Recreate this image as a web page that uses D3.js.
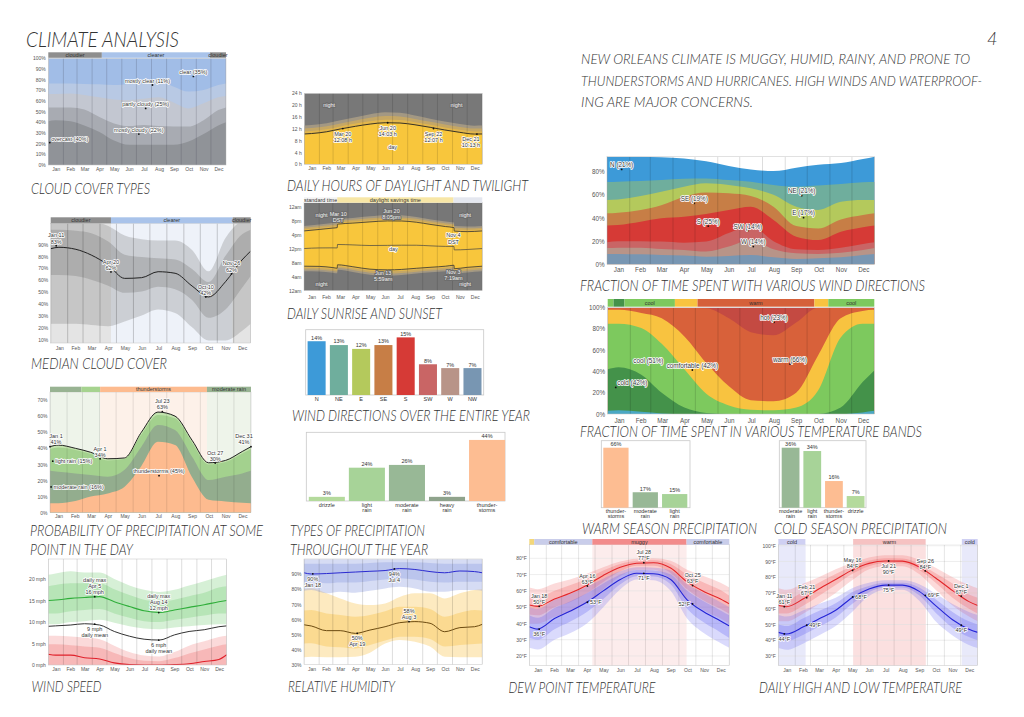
<!DOCTYPE html>
<html><head><meta charset="utf-8">
<script src="https://cdn.jsdelivr.net/npm/d3@7"></script>
<style>
html,body{margin:0;padding:0;background:#fff;}
svg{display:block;}
.t{font-family:'Lato','Open Sans',sans-serif;font-style:italic;font-weight:300;fill:#333;}
.ax text{font-family:'Liberation Sans',Arial,sans-serif;fill:#555;}
.lbl{font-family:'Liberation Sans',Arial,sans-serif;fill:#333;paint-order:stroke;stroke:#fff;stroke-width:1.6px;stroke-linejoin:round;}
.inv{fill:#f2f2f2;stroke:#6d6d6d;stroke-width:2px;}
.bt{font-family:'Liberation Sans',Arial,sans-serif;fill:#333;font-size:5.5px;}
</style></head><body><svg id="c" width="1024" height="717"></svg>
<script>
// ---------- common ----------
const MONTHS=["Jan","Feb","Mar","Apr","May","Jun","Jul","Aug","Sep","Oct","Nov","Dec"];
const MONTH_START=[0,31,59,90,120,151,181,212,243,273,304,334,365];
const DAYS=[0,15,46,74,105,135,166,196,227,258,288,319,349,365];

// ---------- cloud cover types (cumulative tops, %) ----------
const cloudOvercastTop=[41,42,41,37,31,23,19,19,19,19,22,29,37,40];
const cloudMostlyCloudyTop=[54,54,54,52,45,39,36.5,37.5,36.5,36,36,42,51.5,54];
const cloudPartlyCloudyTop=[66.5,66.5,67,65.6,63.4,61.5,61,62,63.4,58.4,53,57.8,63.4,64.7];
const cloudMostlyClearTop=[76.5,76.5,76.5,76,75.6,75,76.5,80,79.7,73.4,68.8,70.3,75,76.5];

// ---------- daylight (hours) ----------
const dayLength=[10.25,10.4,11.0,11.95,12.85,13.6,14.05,13.95,13.35,12.5,11.6,10.8,10.22,10.25];
const civilTop=[11.1,11.25,11.85,12.8,13.75,14.55,15.05,14.95,14.25,13.35,12.45,11.65,11.07,11.1];
const nauticalTop=[12.1,12.25,12.85,13.8,14.8,15.7,16.3,16.15,15.35,14.35,13.45,12.65,12.07,12.1];
const astroTop=[13.1,13.25,13.85,14.85,15.9,16.95,17.6,17.4,16.5,15.4,14.45,13.65,13.07,13.1];

// ---------- median cloud cover (%) ----------
const cloudMedian=[81,82.2,80.5,75.7,67.3,56.1,56.7,61.7,60.4,49.7,40.5,53.3,71.5,79];
const cloudP10=[18,18,18,17,16,20,25,30,27,15,4,4,12,18];
const cloudP25=[59,59,58,55,50,44,45,49,47,38,23,30,48,58];
const cloudP75=[97,97,96,94,87,76,74,73,72,64,53,75,93,97];
const cloudP90=[105,105,105,104,100,92,89,88,88,80,62,90,104,105];

// ---------- sunrise / sunset (hour of day) ----------
const SUN_DAYS=[0,31,59,68,68.6,100,135,171,200,230,260,290,307,307.6,334,365];
const sunrise=[7.05,7.0,6.65,6.47,7.45,6.9,6.2,6.0,6.12,6.45,6.75,7.05,7.33,6.33,6.72,7.05];
const sunset=[17.2,17.62,18.02,18.15,19.15,19.45,19.8,20.08,20.05,19.7,19.05,18.45,18.15,17.15,17.0,17.2];
const solarNoon=[12.13,12.31,12.33,12.31,13.3,13.18,13.0,13.04,13.09,13.08,12.9,12.75,12.74,11.74,11.86,12.13];
const civilDawn=[6.6,6.55,6.2,6.02,7.0,6.45,5.72,5.5,5.64,6.0,6.3,6.6,6.88,5.88,6.26,6.6];
const nauticalDawn=[6.1,6.05,5.7,5.52,6.5,5.93,5.18,4.93,5.1,5.48,5.8,6.1,6.38,5.38,5.76,6.1];
const astroDawn=[5.6,5.55,5.2,5.02,6.0,5.4,4.6,4.3,4.5,4.95,5.3,5.6,5.88,4.88,5.26,5.6];
const civilDusk=[17.65,18.07,18.47,18.6,19.6,19.9,20.28,20.58,20.53,20.15,19.5,18.9,18.6,17.6,17.46,17.65];
const nauticalDusk=[18.15,18.57,18.97,19.1,20.1,20.42,20.82,21.15,21.08,20.68,20.0,19.4,19.1,18.1,17.96,18.15];
const astroDusk=[18.65,19.07,19.47,19.6,20.6,20.95,21.4,21.78,21.68,21.2,20.52,19.9,19.6,18.6,18.46,18.65];

// ---------- wind direction over the year (bars) ----------
const windDirs=["N","NE","E","SE","S","SW","W","NW"];
const windDirPct=[14,13,12,13,15,8,7,7];
const windDirColors=["#3d9ad8","#6fae9d","#b4c95c","#c77e46","#d63a36","#c96565","#b89488","#7896b2"];

// ---------- types of precipitation (bars) ----------
const precipTypes=["drizzle","light\nrain","moderate\nrain","heavy\nrain","thunder-\nstorms"];
const precipTypePct=[3,24,26,3,44];
const precipTypeColors=["#b4da9c","#a7d398","#98b896","#8fa38c","#fdbd92"];

// ---------- probability of precipitation (cumulative, %) ----------
const ppThunder=[5.8,5.8,7.2,10,12,16,29,44,42,22,8,7,6.2,5.8];
const ppModerate=[26,25.5,24.4,23.4,22.4,26.5,41,54.5,51.3,34.8,20.3,22.4,24.4,26];
const ppLight=[39.5,40.5,39,36.5,32.5,33.3,48.5,60.7,58.6,43.5,30,31.5,36.8,39.5];
const ppTotal=[41,42,40,37.5,33.5,34,50,62.5,60,45,31,32.5,38,41];

// ---------- wind speed (mph) ----------
const wsMax=[15,15.1,15.5,15.7,15.9,14.7,13.6,12.6,12.2,12.8,13.4,14,14.7,15];
const wsMaxP10=[9.5,9.5,10,10.2,10.5,9.8,9,8.5,8.3,8.7,9,9.3,9.5,9.5];
const wsMaxP25=[12,12,12.5,12.8,13,12,11,10.2,10,10.5,11,11.5,12,12];
const wsMaxP75=[18.3,18.6,19,19,19,17.6,16.3,15.2,14.8,15.2,16,16.8,18,18.3];
const wsMaxP90=[21,21.3,21.8,21.5,21.5,20,18.5,17.5,17,17.5,18.5,19.5,20.5,21];
const wsMean=[9,9.1,9.3,9.6,9.3,7.8,6.7,6,5.8,7,7.8,8.2,8.9,9.1];
const wsMin=[2.5,2.3,2.3,1.7,1.4,0.5,0.1,0,0,0.1,0.3,0.8,1.3,2.4];
const wsMinP75=[4.8,4.8,4.6,4.3,4,2.8,1.6,1,0.9,1.6,2.7,3.6,4.5,4.8];
const wsMinP90=[6.8,6.8,6.6,6.4,6,4.5,3,2.2,2,3,4.5,5.5,6.5,6.8];

// ---------- relative humidity (%) ----------
const humHigh=[91,90.2,90.5,91,91.5,92,92.5,93.8,93.2,91.8,91,92.2,91.8,91];
const humHighP10=[79,79.6,77.4,78.5,77.8,79,80.6,81.7,80.6,78.5,78.5,79.6,79.6,79];
const humHighP25=[85,85,84,84.5,84.5,85.5,86.5,87.3,86.5,85,84.5,85,85,85];
const humHighP75=[97,97,97,97,97,97.5,98,98,98,97.5,97,97,97,97];
const humHighP90=[100,100,100,100,100,100,100,100,100,100,100,100,100,100];
const humLow=[56.5,55.7,52.6,52.6,50.8,53,55.2,57.9,58.6,57.5,51.9,54.6,55.2,56.8];
const humLowP10=[35,35.3,35,35,35.3,38,44,46.4,45.3,42,35.3,35,34.9,35];
const humLowP25=[44,44.2,42,41.5,40.8,43,46,48.6,48.6,47,42,43,43.7,44];
const humLowP75=[66,66.3,64,63,61.9,63,65.5,68.5,68.5,67,61.9,64.5,66.3,66];
const humLowP90=[80,80.7,77.4,74,70.7,69.6,70.7,75,77.4,77.4,74,77.4,79.6,80];

// ---------- wind direction fractions (cumulative tops, %) ----------
const wdNW=[9,9,8.6,8,7.5,6.6,7.2,8,6,4.6,5.2,6,8,9];
const wdW=[14,14.4,14.4,13.2,12.4,11,15.3,21,13,9.5,9,10,12.4,14];
const wdSW=[19,20,20,19.6,18.7,19.6,27,33,20,13,12.4,14.4,17.6,19];
const wdS=[33.5,34,36.8,39.7,41,43.5,47,49.8,38.3,23.9,21,28.2,32,33.5];
const wdSE=[44,44.6,47,51,58.4,62,61.3,59,49.8,33,31,38.8,42.6,44];
const wdE=[55.5,56,59,62.7,67,70,68.5,65.6,60,49.8,47,54,55.5,55.5];
const wdNE=[71,71.4,72,72.8,74,74.2,72.8,71.4,68.5,67,68,69.4,70.8,71];
const wdN=[93,93,93,92.5,91.5,89,85,82,80.5,83.5,86,87.5,91,93];

// ---------- temperature bands (cumulative tops, %) ----------
const tbFreezing=[3,3.5,2,0.5,0,0,0,0,0,0,0,0,1.5,3];
const tbCold=[42,44,37,20,6,1,0,0,0,0,0,6,30,41];
const tbCool=[85,85,81,66,42,19,8,4,3.5,6,22,72,85,85];
const tbComfortable=[98,98,95,90,73,48,26,13,12,20,55,90,97,98];
const tbWarm=[100,100,100,100,100,99.5,90,77,74,86,100,100,100,100];

// ---------- seasonal precipitation (bars) ----------
const warmTypes=["thunder-\nstorms","moderate\nrain","light\nrain"];
const warmPct=[66,17,15];
const warmColors=["#fdbd92","#98b896","#a7d398"];
const coldTypes=["moderate\nrain","light\nrain","thunder-\nstorms","drizzle"];
const coldPct=[36,34,16,7];
const coldColors=["#98b896","#a7d398","#fdbd92","#b4da9c"];

// ---------- dew point (°F) ----------
const dewHigh=[51.3,50.5,55,58.5,63.5,69.5,74.5,77,77.3,74,65.5,59.5,55,52];
const dewHighP10=[40,40,44,47,53,61,69,73,73,67,55,48,43,40];
const dewHighP25=[45.5,45,50,53,58.5,65.5,72,75.5,75.5,71,61,54,49,46];
const dewHighP75=[57,56,60,63.5,67.5,72.5,76.5,78.5,78.8,76.5,70,65,60.5,57];
const dewHighP90=[62,61,64.5,67,70.5,74.5,78,79.8,80,78.5,73,69,65,62];
const dewLow=[38,36.5,43,47.5,53,60,67,70.8,70.5,67,54.5,47,41.5,38.5];
const dewLowP10=[25,24,30,34,40,50,61,67,66.5,60,43,34,28,25];
const dewLowP25=[31,30,36.5,41,47,55,64,69,68.8,64,49,40.5,34.5,31];
const dewLowP75=[45,43.5,49.5,53.5,58.5,64.5,70,72.8,72.5,70,60,53.5,48,45];
const dewLowP90=[50,49,54.5,58,62.5,67.5,72,74.5,74.2,72.5,64,58.5,53,50];

// ---------- daily high / low temperature (°F) ----------
const tHigh=[62,61.3,66.3,72.5,78.5,84.5,88.8,90.3,90.2,86.5,79.5,71.5,64.5,62];
const tHighP10=[52,52,57,63,70,78,85,87,87,82,72,62,55,52];
const tHighP25=[57,57,62,68,75,82,87,88.8,88.7,84.5,76.5,67,60,57];
const tHighP75=[67,66,71,76.5,82,87,90.5,92,91.8,88.5,82.5,76,69,67];
const tHighP90=[73,72,76,80,85,89,92.5,94,94,91,86,80,75,73];
const tLow=[45,44,48.5,53.5,59,67,72.5,75,75,71,62,53,47,45];
const tLowP10=[35,34,38,43,49,58,68,72,72,65,52,43,37,35];
const tLowP25=[40,39.5,43.5,48.5,54.5,63,70.5,73.5,73.5,68.5,57.5,48,42,40];
const tLowP75=[50,49,54,58.5,63.5,70.5,74.5,76.5,76.5,73.5,66,58,52,50];
const tLowP90=[56,55,59,63,67,73,76.5,78,78,75.5,69.5,63,58,56];

// ---------- drawing ----------
const svg=d3.select('#c');
const MONTH_MID=MONTH_START.slice(0,12).map((d,i)=>(d+MONTH_START[i+1])/2);
let clipN=0;

function addLabels(g,x,y,labels,fs){
  fs=fs||5.5; const lh=fs*1.1;
  labels.forEach(l=>{
    const px=x(l.d), py=y(l.v);
    if(l.dot!==false) g.append('circle').attr('cx',px).attr('cy',py).attr('r',0.9).attr('fill','#111');
    const n=l.t.length; let anchor='middle', tx=px, ty;
    switch(l.p){
      case 'a': ty=py-2.2-(n-1)*lh; break;
      case 'b': ty=py+fs+1.5; break;
      case 'r': anchor='start'; tx=px+2.5; ty=py+fs*0.35-(n-1)*lh/2; break;
      case 'l': anchor='end'; tx=px-2.5; ty=py+fs*0.35-(n-1)*lh/2; break;
      case 'ar': anchor='start'; tx=px+1.5; ty=py-2-(n-1)*lh; break;
      default: ty=py+fs*0.35-(n-1)*lh/2;
    }
    tx+=l.dx||0; ty+=l.dy||0;
    const t=g.append('text').attr('class',l.inv?'lbl inv':'lbl').attr('text-anchor',anchor).attr('font-size',fs);
    l.t.forEach((s,i)=>t.append('tspan').attr('x',tx).attr('y',ty+i*lh).text(s));
  });
}

function timeChart(o){
  const g=svg.append('g');
  const x=d3.scaleLinear().domain([0,365]).range([o.x0,o.x1]);
  const y=d3.scaleLinear().domain([o.vA,o.vB]).range([o.pA,o.pB]);
  const id='cl'+(clipN++);
  g.append('clipPath').attr('id',id).append('rect').attr('x',o.x0).attr('y',o.top).attr('width',o.x1-o.x0).attr('height',o.bottom-o.top);
  const p=g.append('g').attr('clip-path',`url(#${id})`);
  p.append('rect').attr('x',o.x0).attr('y',o.top).attr('width',o.x1-o.x0).attr('height',o.bottom-o.top).attr('fill',o.bgColor||'#fff');
  (o.bg||[]).forEach(b=>p.append('rect').attr('x',x(b[0])).attr('y',o.top).attr('width',x(b[1])-x(b[0])).attr('height',o.bottom-o.top).attr('fill',b[2]));
  if(o.hgrid) o.ticks.forEach(t=>p.append('line').attr('x1',o.x0).attr('x2',o.x1).attr('y1',y(t)).attr('y2',y(t)).attr('stroke',o.hgrid).attr('stroke-width',0.6));
  (o.areas||[]).forEach(a=>{
    const days=a.days||DAYS, lo=a.lo;
    const ar=d3.area().x((d,i)=>x(days[i])).y0((d,i)=>y(Array.isArray(lo)?lo[i]:lo)).y1(d=>y(d)).curve(d3.curveMonotoneX);
    p.append('path').datum(a.hi).attr('d',ar).attr('fill',a.color).attr('fill-opacity',a.op==null?1:a.op);
  });
  MONTH_START.forEach(d=>p.append('line').attr('x1',x(d)).attr('x2',x(d)).attr('y1',o.top).attr('y2',o.bottom).attr('stroke',o.vgrid||'rgba(0,0,0,0.2)').attr('stroke-width',0.7));
  (o.lines||[]).forEach(l=>{
    const days=l.days||DAYS;
    const ln=d3.line().x((d,i)=>x(days[i])).y(d=>y(d)).curve(d3.curveMonotoneX);
    p.append('path').datum(l.vals).attr('d',ln).attr('fill','none').attr('stroke',l.color).attr('stroke-width',l.w||1);
  });
  g.append('rect').attr('x',o.x0).attr('y',o.top).attr('width',o.x1-o.x0).attr('height',o.bottom-o.top).attr('fill','none').attr('stroke','#c4c4c4').attr('stroke-width',0.5);
  if(o.band){
    o.band.forEach(b=>{
      g.append('rect').attr('x',x(b[0])).attr('y',o.bandY[0]).attr('width',x(b[1])-x(b[0])).attr('height',o.bandY[1]-o.bandY[0]).attr('fill',b[2]);
      if(b[3]) g.append('text').attr('class','bt').attr('text-anchor','middle').attr('x',(x(b[0])+x(b[1]))/2).attr('y',(o.bandY[0]+o.bandY[1])/2+1.9).attr('font-size',o.bandFs||5.5).text(b[3]);
    });
  }
  const fs=o.fs||5.5;
  const ya=d3.axisLeft(y).tickValues(o.ticks).tickFormat(o.fmt).tickSize(0).tickPadding(2.5);
  const ay=g.append('g').attr('class','ax').attr('transform',`translate(${o.x0},${o.tickDy||0})`).call(ya);
  ay.select('.domain').remove(); ay.selectAll('text').attr('font-size',fs);
  const xa=d3.axisBottom(x).tickValues(MONTH_MID).tickFormat((d,i)=>MONTHS[i]).tickSize(0).tickPadding(o.mPad||2.5);
  const axg=g.append('g').attr('class','ax').attr('transform',`translate(0,${o.bottom})`).call(xa);
  axg.select('.domain').remove(); axg.selectAll('text').attr('font-size',fs);
  addLabels(g,x,y,o.labels||[],o.lfs);
  return {g,x,y};
}

function barChart(o){
  const g=svg.append('g');
  g.append('rect').attr('x',o.x0).attr('y',o.y0).attr('width',o.x1-o.x0).attr('height',o.y1-o.y0).attr('fill','#fff').attr('stroke','#c8c8c8').attr('stroke-width',0.8);
  const x=d3.scaleBand().domain(o.cats).range(o.range).paddingInner(o.pi).paddingOuter(0);
  const y=d3.scaleLinear().domain([0,o.max]).range([o.y1,o.y0]);
  g.selectAll('rect.b').data(o.vals).join('rect').attr('class','b')
    .attr('x',(d,i)=>x(o.cats[i])).attr('width',x.bandwidth())
    .attr('y',d=>y(d)).attr('height',d=>o.y1-y(d)).attr('fill',(d,i)=>o.colors[i]);
  g.selectAll('text.v').data(o.vals).join('text').attr('class','bt v').attr('text-anchor','middle').attr('font-size',4.8)
    .attr('x',(d,i)=>x(o.cats[i])+x.bandwidth()/2).attr('y',d=>y(d)-1.6).text(d=>d+'%');
  o.cats.forEach((c,i)=>{
    const t=g.append('text').attr('class','bt').attr('text-anchor','middle').attr('font-size',4.8).attr('fill','#444');
    c.split('\n').forEach((s,j)=>t.append('tspan').attr('x',x(c)+x.bandwidth()/2).attr('y',o.y1+5.5+j*5).text(s));
  });
}

// ---------- headings ----------
const HEADINGS=[
 ["CLIMATE ANALYSIS",26,46.5,153,22],
 ["CLOUD COVER TYPES",31,194,119,15],
 ["DAILY HOURS OF DAYLIGHT AND TWILIGHT",287,191,241,15],
 ["MEDIAN CLOUD COVER",31,369,136,15],
 ["DAILY SUNRISE AND SUNSET",287,319,155,15],
 ["WIND DIRECTIONS OVER THE ENTIRE YEAR",292,421,238,15],
 ["PROBABILITY OF PRECIPITATION AT SOME",30,535.5,233,15],
 ["POINT IN THE DAY",30,555,103,15],
 ["TYPES OF PRECIPITATION",290,535.5,135,15],
 ["THROUGHOUT THE YEAR",290,555,138,15],
 ["WIND SPEED",31.5,692,70,15],
 ["RELATIVE HUMIDITY",288,692,107,15],
 ["DEW POINT TEMPERATURE",508.5,692.5,147,15],
 ["DAILY HIGH AND LOW TEMPERATURE",759,692.5,203,15],
 ["WARM SEASON PRECIPITATION",582,534,175,15],
 ["COLD SEASON PRECIPITATION",774,534,173,15],
 ["FRACTION OF TIME SPENT WITH VARIOUS WIND DIRECTIONS",580,290.5,345,15],
 ["FRACTION OF TIME SPENT IN VARIOUS TEMPERATURE BANDS",580,437,342,15],
 ["NEW ORLEANS CLIMATE IS MUGGY, HUMID, RAINY, AND PRONE TO",581,64,389,14],
 ["THUNDERSTORMS AND HURRICANES. HIGH WINDS AND WATERPROOF-",581,85.5,401,14],
 ["ING ARE MAJOR CONCERNS.",581,106.5,172,14]
];
HEADINGS.forEach(h=>{
  svg.append('text').attr('class','t').attr('x',h[1]).attr('y',h[2]).attr('font-size',h[4])
    .attr('textLength',h[3]).attr('lengthAdjust','spacingAndGlyphs').text(h[0]);
});
svg.append('text').attr('class','t').attr('x',987).attr('y',45).attr('font-size',18).text('4');

const pct=d=>d+'%';

// 1. cloud cover types
timeChart({x0:48.3,x1:226,top:58.3,bottom:165,vA:0,pA:165,vB:100,pB:58.3,
  bgColor:'#a1bde7',
  areas:[{hi:cloudMostlyClearTop,lo:0,color:'#b8c9e4'},{hi:cloudPartlyCloudyTop,lo:0,color:'#c3c7d1'},
         {hi:cloudMostlyCloudyTop,lo:0,color:'#a8abb2'},{hi:cloudOvercastTop,lo:0,color:'#909398'}],
  vgrid:'rgba(60,60,70,0.3)',
  band:[[0,110,'#8e8e8e','cloudier'],[110,332,'#a9c3ea','clearer'],[332,365,'#8e8e8e','cloudier']],bandY:[52.3,57.8],
  ticks:d3.range(0,101,10),fmt:pct,fs:5,mPad:2,
  labels:[{d:3,v:21,t:['overcast (40%)'],p:'ar'},{d:186,v:29,t:['mostly cloudy (22%)'],p:'a'},
          {d:200,v:53,t:['partly cloudy (25%)'],p:'a'},{d:214,v:75,t:['mostly clear (11%)'],p:'a',dx:-5},
          {d:298,v:83,t:['clear (35%)'],p:'a'}]});

// 2. daylight
timeChart({x0:304.3,x1:482.3,top:93.3,bottom:164.3,vA:0,pA:164.3,vB:24,pB:93.3,
  bgColor:'#787878',
  areas:[{hi:astroTop,lo:0,color:'#a39883'},{hi:nauticalTop,lo:0,color:'#c5a765'},{hi:civilTop,lo:0,color:'#e2b64c'},{hi:dayLength,lo:0,color:'#f8c63c'}],
  lines:[{vals:dayLength,color:'#222',w:0.9}],
  vgrid:'rgba(0,0,0,0.18)',
  ticks:d3.range(0,25,4),fmt:d=>d+' h',fs:5,mPad:2.5,
  labels:[{d:51,v:20,t:['night'],p:'c',inv:1,dot:false},{d:312,v:20,t:['night'],p:'c',inv:1,dot:false},
          {d:79,v:12.08,t:['Mar 20','12:08 h'],p:'b'},{d:171,v:14.05,t:['Jun 20','14:03 h'],p:'b'},
          {d:265,v:12.1,t:['Sep 22','12:07 h'],p:'b'},{d:354,v:10.22,t:['Dec 21','10:13 h'],p:'b',dx:-6},
          {d:181,v:5.7,t:['day'],p:'c',dot:false}]});

// 3. median cloud cover
timeChart({x0:50.7,x1:250.7,top:223.3,bottom:343,vA:10,pA:333.3,vB:90,pB:238,tickDy:6.5,
  bg:[[0,110,'#e4e4e4'],[110,332,'#eef2f9'],[332,365,'#e4e4e4']],
  areas:[{hi:cloudP90,lo:cloudP10,color:'#8a8a8a',op:0.33},{hi:cloudP75,lo:cloudP25,color:'#7a7a7a',op:0.33}],
  lines:[{vals:cloudMedian,color:'#222',w:1}],
  vgrid:'rgba(0,0,0,0.28)',
  band:[[0,110,'#8e8e8e','cloudier'],[110,332,'#a9c3ea','clearer'],[332,365,'#8e8e8e','cloudier']],bandY:[217.3,223.3],
  ticks:d3.range(10,91,10),fmt:pct,fs:5,mPad:3.8,
  labels:[{d:10,v:83.5,t:['Jan 11','83%'],p:'a'},{d:110,v:61.5,t:['Apr 20','62%'],p:'a'},
          {d:283,v:40.5,t:['Oct 10','42%'],p:'a'},{d:330,v:60,t:['Nov 26','62%'],p:'a'}]});

// 4. sunrise & sunset
timeChart({x0:304,x1:482.3,top:202.7,bottom:290.7,vA:0,pA:290.7,vB:24,pB:207.3,
  bgColor:'#777777',
  areas:[{days:SUN_DAYS,hi:astroDusk,lo:astroDawn,color:'#a39883'},{days:SUN_DAYS,hi:nauticalDusk,lo:nauticalDawn,color:'#c5a765'},
         {days:SUN_DAYS,hi:civilDusk,lo:civilDawn,color:'#e2b64c'},{days:SUN_DAYS,hi:sunset,lo:sunrise,color:'#f8c63c'}],
  lines:[{days:SUN_DAYS,vals:sunrise,color:'#333',w:0.8},{days:SUN_DAYS,vals:sunset,color:'#333',w:0.8},{days:SUN_DAYS,vals:solarNoon,color:'#444',w:0.7}],
  vgrid:'rgba(0,0,0,0.18)',
  band:[[0,68,'#f3f3f3','standard time'],[68,306,'#f7e6a6','daylight savings time'],[306,365,'#e4e7ef','']],bandY:[197.3,202.7],bandFs:5,
  ticks:[0,4,8,12,16,20,24],fmt:d=>['12am','4am','8am','12pm','4pm','8pm','12am'][d/4],fs:5,mPad:4.8,
  labels:[{d:36,v:21.8,t:['night'],p:'c',inv:1,dot:false},{d:70,v:21.2,t:['Mar 10','DST'],p:'c',inv:1,dot:false},
          {d:179,v:22,t:['Jun 20','8:05pm'],p:'c',inv:1,dot:false},{d:183,v:11.9,t:['day'],p:'c',dot:false},
          {d:306,v:15,t:['Nov 4','DST'],p:'c',dot:false},{d:330,v:21.8,t:['night'],p:'c',inv:1,dot:false},
          {d:162,v:4.3,t:['Jun 13','5:59am'],p:'c',inv:1,dot:false},{d:306,v:4.6,t:['Nov 3','7:19am'],p:'c',inv:1,dot:false},
          {d:36,v:1.9,t:['night'],p:'c',inv:1,dot:false},{d:330,v:1.9,t:['night'],p:'c',inv:1,dot:false}]});

// 5. wind directions bars
barChart({x0:305.7,x1:483.7,y0:329.7,y1:395,range:[307.6,481.5],pi:0.19,max:17,cats:windDirs,vals:windDirPct,colors:windDirColors});

// 6. precipitation types bars
barChart({x0:306.3,x1:505,y0:432.3,y1:501,range:[308.8,505.1],pi:0.1,max:49.5,cats:precipTypes,vals:precipTypePct,colors:precipTypeColors});

// 7. probability of precipitation
timeChart({x0:50,x1:251,top:392,bottom:512.7,vA:0,pA:512.7,vB:70,pB:400,
  bg:[[0,91,'#eef4ea'],[91,285,'#fdf1e9'],[285,365,'#eef4ea']],
  areas:[{hi:ppTotal,lo:0,color:'#c3e3ae'},{hi:ppLight,lo:0,color:'#a3d18e'},{hi:ppModerate,lo:0,color:'#93ad8e'},{hi:ppThunder,lo:0,color:'#fdbb8f'}],
  lines:[{vals:ppTotal,color:'#222',w:1}],
  vgrid:'rgba(0,0,0,0.15)',
  band:[[0,57,'#98b392'],[57,91,'#a6d38f'],[91,285,'#fdbb8f','thunderstorms'],[285,365,'#98b392','moderate rain']],bandY:[386.7,392],
  ticks:d3.range(0,71,10),fmt:pct,fs:5,mPad:1.8,
  labels:[{d:0,v:41,t:['Jan 1','41%'],p:'a',dx:6},{d:91,v:33.5,t:['Apr 1','34%'],p:'a'},
          {d:204,v:62.8,t:['Jul 23','63%'],p:'a'},{d:300,v:30.8,t:['Oct 27','30%'],p:'a'},
          {d:365,v:41,t:['Dec 31','41%'],p:'a',dx:-7},{d:5,v:32,t:['light rain (15%)'],p:'r'},
          {d:2,v:16,t:['moderate rain (16%)'],p:'r'},{d:198,v:23,t:['thunderstorms (45%)'],p:'a'}]});

// 8. wind speed
timeChart({x0:48.3,x1:226.7,top:559,bottom:665,vA:0,pA:665,vB:20,pB:579,
  areas:[{hi:wsMaxP90,lo:wsMaxP10,color:'#5cc45c',op:0.25},{hi:wsMaxP75,lo:wsMaxP25,color:'#5cc45c',op:0.25},
         {hi:wsMinP90,lo:0,color:'#f06a6a',op:0.25},{hi:wsMinP75,lo:0,color:'#f06a6a',op:0.3}],
  lines:[{vals:wsMax,color:'#2fae3a',w:1.1},{vals:wsMean,color:'#333',w:1},{vals:wsMin,color:'#e0202a',w:1.1}],
  vgrid:'rgba(0,0,0,0.2)',
  ticks:[0,5,10,15,20],fmt:d=>d+' mph',fs:5,mPad:2.5,
  labels:[{d:95,v:15.9,t:['daily max','Apr 5','16 mph'],p:'a'},{d:226,v:12.2,t:['daily max','Aug 14','12 mph'],p:'a'},
          {d:95,v:9.5,t:['9 mph','daily mean'],p:'b'},{d:226,v:5.8,t:['6 mph','daily mean'],p:'b'}]});

// 9. relative humidity
timeChart({x0:304,x1:482.3,top:559,bottom:664.7,vA:30,pA:664.7,vB:90,pB:574.3,
  areas:[{hi:humLowP90,lo:humLowP10,color:'#f8c24a',op:0.35},{hi:humLowP75,lo:humLowP25,color:'#f8c24a',op:0.4},
         {hi:humHighP90,lo:humHighP10,color:'#8a9be0',op:0.35},{hi:humHighP75,lo:humHighP25,color:'#8a9be0',op:0.35}],
  lines:[{vals:humHigh,color:'#2a2ad0',w:1},{vals:humLow,color:'#6b4a10',w:1}],
  vgrid:'rgba(0,0,0,0.2)',
  ticks:d3.range(30,91,10),fmt:pct,fs:5,mPad:2.8,
  labels:[{d:18,v:90.3,t:['90%','Jan 18'],p:'b'},{d:185,v:93.6,t:['94%','Jul 4'],p:'b'},
          {d:215,v:58.6,t:['58%','Aug 3'],p:'a'},{d:109,v:50.8,t:['50%','Apr 19'],p:'b'}]});

// 10. wind direction fractions
timeChart({x0:607,x1:874.7,top:156.7,bottom:264.3,vA:0,pA:264.3,vB:80,pB:171.7,
  areas:[{hi:wdN,lo:0,color:'#3d9ad8'},{hi:wdNE,lo:0,color:'#6fae9d'},{hi:wdE,lo:0,color:'#b4c95c'},{hi:wdSE,lo:0,color:'#c77e46'},
         {hi:wdS,lo:0,color:'#d63a36'},{hi:wdSW,lo:0,color:'#c96565'},{hi:wdW,lo:0,color:'#b89488'},{hi:wdNW,lo:0,color:'#7896b2'}],
  vgrid:'rgba(0,0,0,0.2)',
  ticks:[0,20,40,60,80],fmt:pct,fs:6.3,mPad:3.5,lfs:6.3,
  labels:[{d:20,v:82,t:['N (21%)'],p:'a'},{d:119,v:52.7,t:['SE (19%)'],p:'a'},{d:138,v:33,t:['S (25%)'],p:'a'},
          {d:192,v:28.8,t:['SW (14%)'],p:'a'},{d:199.5,v:15.3,t:['W (14%)'],p:'a'},{d:265.5,v:59.3,t:['NE (21%)'],p:'a'},
          {d:268,v:40.3,t:['E (17%)'],p:'a'}]});

// 11. temperature bands
timeChart({x0:607.7,x1:874.3,top:307.7,bottom:414,vA:0,pA:414,vB:100,pB:307.7,
  bgColor:'#c44a42',
  areas:[{hi:tbWarm,lo:0,color:'#d8613a'},{hi:tbComfortable,lo:0,color:'#f8c340'},{hi:tbCool,lo:0,color:'#7dc95e'},
         {hi:tbCold,lo:0,color:'#44924a'},{hi:tbFreezing,lo:0,color:'#4aa8c4'}],
  vgrid:'rgba(0,0,0,0.2)',
  band:[[0,8,'#7dc95e'],[8,23,'#44924a'],[23,92,'#7dc95e','cool'],[92,123,'#f8c340'],[123,283,'#d5603a','warm'],[283,302,'#f8c340'],[302,365,'#7dc95e','cool']],
  bandY:[299,306.7],bandFs:6.3,
  ticks:d3.range(0,101,20),fmt:pct,fs:6.3,mPad:4.5,lfs:6.3,
  labels:[{d:227.7,v:86.2,t:['hot (23%)'],p:'a'},{d:249.6,v:47,t:['warm (66%)'],p:'a'},{d:55.7,v:46,t:['cool (51%)'],p:'a'},
          {d:115.9,v:41.4,t:['comfortable (42%)'],p:'a'},{d:11,v:25,t:['cold (42%)'],p:'ar'}]});

// 12/13. seasonal precipitation
barChart({x0:601.3,x1:690,y0:440.7,y1:507.7,range:[603.3,687.3],pi:0.14,max:73.7,cats:warmTypes,vals:warmPct,colors:warmColors});
barChart({x0:779.3,x1:866,y0:440.7,y1:507.7,range:[781.7,864.5],pi:0.18,max:40.2,cats:coldTypes,vals:coldPct,colors:coldColors});

// 14. dew point
timeChart({x0:529.3,x1:729.3,top:544.7,bottom:665.7,vA:20,pA:656,vB:80,pB:558.3,
  bg:[[115,287,'#fcecec']],hgrid:'#e2e2e2',
  areas:[{hi:dewHighP90,lo:dewHighP10,color:'#f26b6b',op:0.25},{hi:dewHighP75,lo:dewHighP25,color:'#f26b6b',op:0.3},
         {hi:dewLowP90,lo:dewLowP10,color:'#6b6bf2',op:0.25},{hi:dewLowP75,lo:dewLowP25,color:'#6b6bf2',op:0.3}],
  lines:[{vals:dewHigh,color:'#e3262a',w:1.1},{vals:dewLow,color:'#2424d6',w:1.1}],
  vgrid:'rgba(0,0,0,0.15)',
  band:[[0,9,'#f3d77a'],[9,115,'#c9cdea','comfortable'],[115,287,'#f28b8b','muggy'],[287,365,'#c9cdea','comfortable']],bandY:[539,544.7],
  ticks:d3.range(20,81,10),fmt:d=>d+'°F',fs:5,mPad:3,
  labels:[{d:18,v:50.5,t:['Jan 18','50°F'],p:'a'},{d:18,v:36.5,t:['36°F'],p:'b'},{d:106,v:63,t:['Apr 16','63°F'],p:'a'},
          {d:106,v:53,t:['53°F'],p:'r'},{d:209,v:77.3,t:['Jul 28','77°F'],p:'a'},{d:209,v:70.8,t:['71°F'],p:'b'},
          {d:298,v:63.3,t:['Oct 25','63°F'],p:'a'},{d:298,v:52,t:['52°F'],p:'l'}]});

// 15. daily high & low
timeChart({x0:778.3,x1:977.7,top:544.7,bottom:665.7,vA:30,pA:656,vB:100,pB:545.7,
  bg:[[0,50,'#e8e9fa'],[137,270,'#fbe0e0'],[336,365,'#e8e9fa']],hgrid:'#e0e0e0',
  areas:[{hi:tHighP90,lo:tHighP10,color:'#f26b6b',op:0.25},{hi:tHighP75,lo:tHighP25,color:'#f26b6b',op:0.3},
         {hi:tLowP90,lo:tLowP10,color:'#6b6bf2',op:0.25},{hi:tLowP75,lo:tLowP25,color:'#6b6bf2',op:0.3}],
  lines:[{vals:tHigh,color:'#e3262a',w:1.1},{vals:tLow,color:'#2424d6',w:1.1}],
  vgrid:'rgba(0,0,0,0.15)',
  band:[[0,50,'#cfd0f3','cold'],[50,137,'#ffffff'],[137,270,'#f6c2c2','warm'],[270,336,'#ffffff'],[336,365,'#cfd0f3','cold']],bandY:[539,544.7],
  ticks:d3.range(30,101,10),fmt:d=>d+'°F',fs:5,mPad:3,
  labels:[{d:11,v:61.3,t:['Jan 11','61°F'],p:'a'},{d:11,v:44,t:['44°F'],p:'b'},{d:52,v:67,t:['Feb 21','67°F'],p:'a'},
          {d:52,v:49.5,t:['49°F'],p:'r'},{d:136,v:84.3,t:['May 16','84°F'],p:'a'},{d:136,v:67.5,t:['68°F'],p:'r'},
          {d:202,v:90.3,t:['Jul 21','90°F'],p:'b'},{d:202,v:75,t:['75°F'],p:'b'},{d:269,v:84,t:['Sep 26','84°F'],p:'a'},
          {d:269,v:68.5,t:['69°F'],p:'r'},{d:335,v:68,t:['Dec 1','67°F'],p:'a'},{d:335,v:49.5,t:['49°F'],p:'b'}]});
</script></body></html>
